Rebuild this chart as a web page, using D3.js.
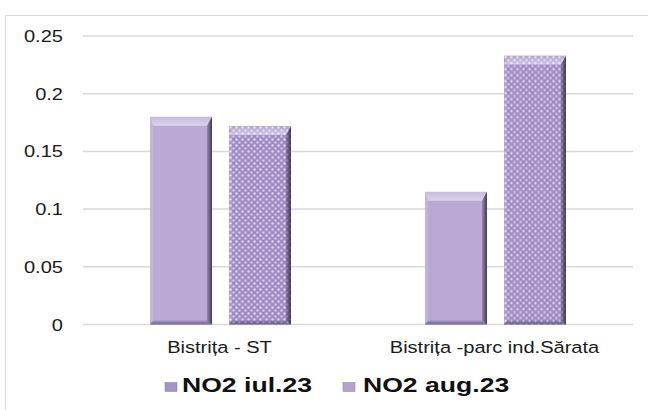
<!DOCTYPE html>
<html>
<head>
<meta charset="utf-8">
<script src="https://cdn.jsdelivr.net/npm/d3@7"></script>
<style>
  body { margin: 0; background: #fff; }
  svg { display: block; font-family: "Liberation Sans", Arial, sans-serif; }
</style>
</head>
<body>
<svg></svg>
<script>
const categories = ["Bistrița - ST", "Bistrița -parc ind.Sărata"];
const seriesNames = ["NO2 iul.23", "NO2 aug.23"];
const no2Jul = [0.18, 0.115];
const no2Aug = [0.172, 0.233];
const yTicks = [0, 0.05, 0.1, 0.15, 0.2, 0.25];

const width = 648, height = 410;
const plot = {left: 83, right: 633, top: 36, bottom: 324.5};
const sx = 1.18;                     // text looks stretched horizontally

const svg = d3.select("svg")
  .attr("width", width)
  .attr("height", height);

const defs = svg.append("defs");

// dotted fill for second series
const pat = defs.append("pattern")
  .attr("id", "dots")
  .attr("patternUnits", "userSpaceOnUse")
  .attr("width", 6)
  .attr("height", 6);
pat.append("rect").attr("width", 6).attr("height", 6).attr("fill", "#a08cc4");
pat.append("rect").attr("x", 0.5).attr("y", 0.5).attr("width", 2).attr("height", 2).attr("fill", "#efe9f8");
pat.append("rect").attr("x", 3.5).attr("y", 3.5).attr("width", 2).attr("height", 2).attr("fill", "#ddd3ef");

// bevel shading
function grad(id, x2, y2, stops) {
  const g = defs.append("linearGradient").attr("id", id)
    .attr("x1", 0).attr("y1", 0).attr("x2", x2).attr("y2", y2);
  stops.forEach(s => g.append("stop").attr("offset", s[0]).attr("stop-color", s[1]).attr("stop-opacity", s[2]));
}
grad("gTop", 0, 1, [[0, "#fff", 0.2], [1, "#fff", 0.5]]);
grad("gRight", 1, 0, [[0, "#2a2040", 0.25], [1, "#1a1428", 0.75]]);
grad("gBottom", 0, 1, [[0, "#2a2040", 0.15], [1, "#2a2040", 0.5]]);

const fills = ["#b9a9d4", "url(#dots)"];

// chart border
svg.append("rect")
  .attr("x", 5.5).attr("y", 15.5)
  .attr("width", width + 10).attr("height", height)
  .attr("fill", "none")
  .attr("stroke", "#d9d9d9");

const y = d3.scaleLinear()
  .domain([0, 0.25])
  .range([plot.bottom, plot.top]);

const x0 = d3.scaleBand()
  .domain(categories)
  .range([plot.left, plot.right]);

const x1 = d3.scaleBand()
  .domain(seriesNames)
  .range([67, x0.bandwidth() - 67])
  .paddingInner(0.215);

// gridlines
svg.append("g")
  .selectAll("line")
  .data(yTicks)
  .join("line")
  .attr("x1", plot.left).attr("x2", plot.right)
  .attr("y1", d => y(d)).attr("y2", d => y(d))
  .attr("stroke", "#d9d9d9")
  .attr("stroke-width", 1.5);

// y tick labels
svg.append("g")
  .selectAll("text")
  .data(yTicks)
  .join("text")
  .attr("transform", d => `translate(63,${y(d) + 6}) scale(${sx},1)`)
  .attr("text-anchor", "end")
  .attr("font-size", 17)
  .attr("fill", "#1a1a1a")
  .text(d => d);

// bars
const rows = [];
categories.forEach((c, i) => {
  rows.push({cat: c, s: 0, v: no2Jul[i]});
  rows.push({cat: c, s: 1, v: no2Aug[i]});
});

const bars = svg.append("g")
  .selectAll("g")
  .data(rows)
  .join("g")
  .attr("transform", d => `translate(${x0(d.cat) + x1(seriesNames[d.s])},${y(d.v)})`);

const bw = x1.bandwidth();

bars.append("rect")
  .attr("width", bw)
  .attr("height", d => y(0) - y(d.v))
  .attr("fill", d => fills[d.s]);

// bevel faces
const bt = 9, br = 5, bb = 4, bl = 3;
bars.append("path")  // top
  .attr("d", d => `M0,0H${bw}L${bw - br},${bt}H${bl}Z`)
  .attr("fill", "url(#gTop)");
bars.append("path")  // left
  .attr("d", d => { const h = y(0) - y(d.v); return `M0,0L${bl},${bt}V${h - bb}L0,${h}Z`; })
  .attr("fill", "#fff").attr("fill-opacity", 0.15);
bars.append("path")  // right
  .attr("d", d => { const h = y(0) - y(d.v); return `M${bw},0L${bw - br},${bt}V${h - bb}L${bw},${h}Z`; })
  .attr("fill", "url(#gRight)");
bars.append("path")  // bottom
  .attr("d", d => { const h = y(0) - y(d.v); return `M0,${h}L${bl},${h - bb}H${bw - br}L${bw},${h}Z`; })
  .attr("fill", "url(#gBottom)");

// category labels
svg.append("g")
  .selectAll("text")
  .data(categories)
  .join("text")
  .attr("transform", d => `translate(${x0(d) + x0.bandwidth() / 2 - 1},353) scale(${sx},1)`)
  .attr("text-anchor", "middle")
  .attr("font-size", 17)
  .attr("fill", "#1a1a1a")
  .text(d => d);

// legend
const legendX = [165, 343];
const leg = svg.append("g")
  .selectAll("g")
  .data(seriesNames)
  .join("g")
  .attr("transform", (d, i) => `translate(${legendX[i]},0)`);

leg.append("rect")
  .attr("y", 382.5)
  .attr("width", 12).attr("height", 9)
  .attr("fill", (d, i) => i === 0 ? "#a594c6" : "#b3a4cf")
  .attr("stroke", "#8a7aa8")
  .attr("stroke-width", 0.5);

leg.append("text")
  .attr("transform", (d, i) => `translate(${i === 0 ? 17 : 20},392) scale(1.33,1)`)
  .attr("font-size", 20)
  .attr("font-weight", "bold")
  .attr("fill", "#111")
  .text(d => d);
</script>
</body>
</html>
